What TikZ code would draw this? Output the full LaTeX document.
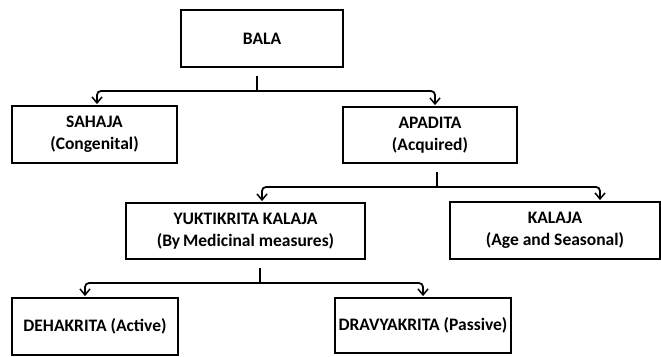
\documentclass[tikz,border=0pt]{standalone}
\usepackage{fontspec}
\setmainfont{Carlito}
\usetikzlibrary{arrows.meta}
\tikzstyle{box}=[draw=black,line width=1.8pt,align=center,inner sep=0pt,font=\fontsize{17.5}{22}\selectfont\bfseries]
\tikzstyle{link}=[draw=black,line width=1.8pt]
\tikzstyle{arrow}=[link,rounded corners=4pt,-{Straight Barb[length=6pt,width=10pt,line width=1.5pt]},shorten >=1pt]

\begin{document}
\begin{tikzpicture}[x=1pt, y=-1pt]
	\useasboundingbox (0,0) rectangle (661,356);
	%boxes
	\node[box, minimum width=162pt, minimum height=57pt] (bala) at (262,38.5) {BALA};
	\node[box, minimum width=165pt, minimum height=57pt] (sahaja) at (94.5,134.5) {SAHAJA\\(Congenital)};
	\node[box, minimum width=174pt, minimum height=56pt] (apadita) at (430,135) {APADITA\\(Acquired)};
	\node[box, minimum width=239pt, minimum height=56pt] (yukti) at (245.5,231) {YUKTIKRITA KALAJA\\(By\,Medicinal measures)};
	\node[box, minimum width=210pt, minimum height=57pt] (kalaja) at (555,230.5) {KALAJA\\(Age and Seasonal)};
	\node[box, minimum width=166pt, minimum height=57pt] (deha) at (95,326.5) {DEHAKRITA (Active)};
	\node[box, minimum width=176pt, minimum height=55pt] (dravya) at (423,325.5) {DRAVYAKRITA (Passive)};
	%forks
	\coordinate (bala fork) at (257,91);
	\coordinate (apadita fork) at (437,187);
	\coordinate (yukti fork) at (260,283);
	%links
	\draw[link] ([yshift=-8pt]bala.south -| bala fork) -- (bala fork);
	\draw[arrow] (bala fork) -| ([xshift=2.5pt]sahaja.north);
	\draw[arrow] (bala fork) -| ([xshift=5pt]apadita.north);
	
	\draw[link] ([yshift=-8pt]apadita.south -| apadita fork) -- (apadita fork);
	\draw[arrow] (apadita fork) -| ([xshift=16.5pt]yukti.north);
	\draw[arrow] (apadita fork) -| ([xshift=45pt]kalaja.north);
	
	\draw[link] ([yshift=-8pt]yukti.south -| yukti fork) -- (yukti fork);
	\draw[arrow] (yukti fork) -| ([xshift=-10pt]deha.north);
	\draw[arrow] (yukti fork) -| (dravya.north);
\end{tikzpicture}
\end{document}
